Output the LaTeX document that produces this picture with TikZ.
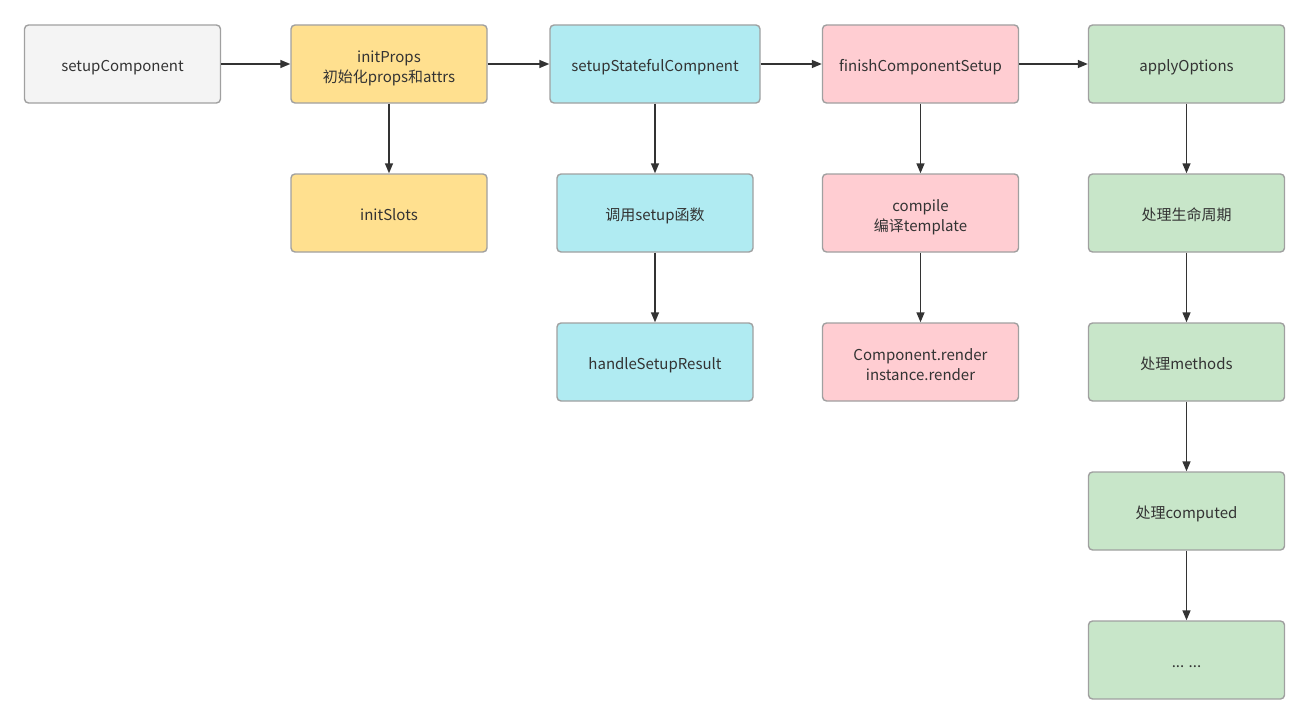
\documentclass[tikz,border=0pt]{standalone}
\usepackage{fontspec}
\setmainfont{Noto Sans CJK SC}
\usepackage{xcolor}
\usepackage{tikz}
\usetikzlibrary{positioning,arrows.meta}
\definecolor{greybg}{RGB}{244,244,244}
\definecolor{softyellow}{RGB}{255,224,143}
\definecolor{softcyan}{RGB}{176,235,242}
\definecolor{softpink}{RGB}{255,205,210}
\definecolor{softgreen}{RGB}{200,230,201}
\definecolor{edgegrey}{RGB}{160,160,160}
\definecolor{inkgrey}{RGB}{51,51,51}
\begin{document}
\begin{tikzpicture}[x=1pt, y=-1pt, node distance=69.6pt,
  every node/.style={font=\fontsize{15}{20}\selectfont, text=inkgrey},
  box/.style={draw=edgegrey, line width=1.4pt, rounded corners=4pt, minimum width=196pt, minimum height=78pt, align=center, inner sep=0pt,
    execute at begin node={\rule{0pt}{21pt}}, execute at end node={\rule[-6pt]{0pt}{0pt}}},
  twolines/.style={execute at begin node={\rule{0pt}{43pt}}},
  flow/.style={-{Triangle[length=10pt,width=8pt]}, line width=1.4pt, draw=inkgrey}]
\useasboundingbox (0,0) rectangle (1310,725);
% top row
\node[box, fill=greybg] (setup) at (122.5,64) {setupComponent};
\node[box, twolines, fill=softyellow] (props) at (389,64) {initProps\\初始化props和attrs};
\node[box, fill=softcyan, minimum width=210pt] (stateful) at (655,64) {setupStatefulCompnent};
\node[box, fill=softpink] (finish) at (920.5,64) {finishComponentSetup};
\node[box, fill=softgreen] (apply) at (1186.5,64) {applyOptions};
% columns
\node[box, fill=softyellow, below=of props] (slots) {initSlots};
\node[box, fill=softcyan, below=of stateful] (callsetup) {调用setup函数};
\node[box, fill=softcyan, below=of callsetup] (result) {handleSetupResult};
\node[box, twolines, fill=softpink, below=of finish] (compile) {compile\\编译template};
\node[box, twolines, fill=softpink, below=of compile] (render) {Component.render\\instance.render};
\node[box, fill=softgreen, below=of apply] (life) {处理生命周期};
\node[box, fill=softgreen, below=of life] (methods) {处理methods};
\node[box, fill=softgreen, below=of methods] (computed) {处理computed};
\node[box, fill=softgreen, below=of computed] (more) {... ...};
\draw[flow] (setup) -- (props);
\draw[flow] (props) -- (stateful);
\draw[flow] (stateful) -- (finish);
\draw[flow] (finish) -- (apply);
\draw[flow] (props) -- (slots);
\draw[flow] (stateful) -- (callsetup);
\draw[flow] (callsetup) -- (result);
\draw[flow] (finish) -- (compile);
\draw[flow] (compile) -- (render);
\draw[flow] (apply) -- (life);
\draw[flow] (life) -- (methods);
\draw[flow] (methods) -- (computed);
\draw[flow] (computed) -- (more);
\end{tikzpicture}
\end{document}
